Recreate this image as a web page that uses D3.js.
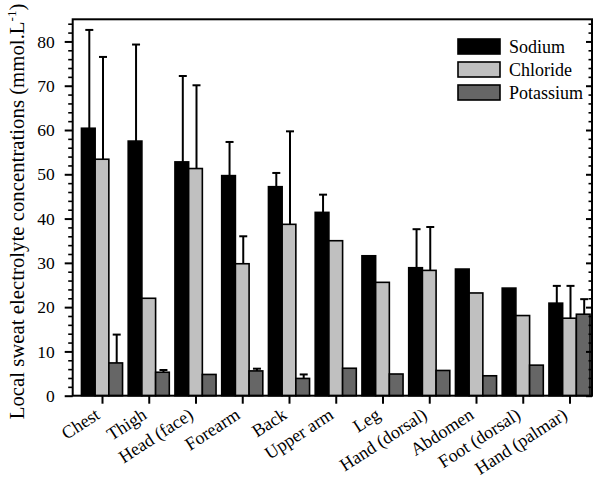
<!DOCTYPE html>
<html>
<head>
<meta charset="utf-8">
<script src="https://cdn.jsdelivr.net/npm/d3@7"></script>
<style>
  html, body { margin: 0; padding: 0; background: #fff; }
  svg { display: block; }
  svg text { font-family: "Liberation Serif", "Times New Roman", serif !important; fill: #000; }
</style>
</head>
<body>
<svg id="chart" width="600" height="480"></svg>
<script>
const categories = ["Chest", "Thigh", "Head (face)", "Forearm", "Back", "Upper arm", "Leg", "Hand (dorsal)", "Abdomen", "Foot (dorsal)", "Hand (palmar)"];
const seriesNames = ["Sodium", "Chloride", "Potassium"];
const sodium      = [60.4, 57.5, 52.8, 49.7, 47.2, 41.4, 31.6, 28.9, 28.6, 24.3, 20.9];
const sodiumErr   = [82.6, 79.3, 72.2, 57.3, 50.3, 45.4, null, 37.6, null, null, 24.8];
const chloride    = [53.4, 22.0, 51.3, 29.8, 38.7, 35.0, 25.6, 28.3, 23.2, 18.1, 17.5];
const chlorideErr = [76.5, null, 70.1, 36.0, 59.7, null, null, 38.1, null, null, 24.8];
const potassium   = [7.4, 5.3, 4.8, 5.6, 3.9, 6.2, 4.9, 5.7, 4.5, 6.9, 18.4];
const potassiumErr= [13.8, 5.8, null, 6.1, 4.8, null, null, null, null, null, 21.8];
const yTicks = [0, 10, 20, 30, 40, 50, 60, 70, 80];
const yLabel = "Local sweat electrolyte concentrations (mmol.L";

const colors = ["#000000", "#c0c0c0", "#666666"];
const values = [sodium, chloride, potassium];
const errs = [sodiumErr, chlorideErr, potassiumErr];

const svg = d3.select("#chart");
const mLeft = 72.7, mRight = 592, mTop = 19.3, mBottom = 395.7;

const y = d3.scaleLinear().domain([0, 85]).range([mBottom, mTop]);
const x = d3.scalePoint().domain(categories).range([102, 569.5]);
const barW = 13.7;
const xs = d3.scaleBand().domain(seriesNames).range([-barW * 1.5, barW * 1.5]).padding(0);

// bars
seriesNames.forEach((s, si) => {
  const g = svg.append("g");
  g.selectAll("rect").data(categories).join("rect")
    .attr("x", (c) => x(c) + xs(s))
    .attr("y", (c, i) => y(values[si][i]))
    .attr("width", xs.bandwidth())
    .attr("height", (c, i) => y(0) - y(values[si][i]))
    .attr("fill", colors[si])
    .attr("stroke", "#000")
    .attr("stroke-width", 1.6);
  const eg = svg.append("g").attr("stroke", "#000").attr("stroke-width", 2);
  categories.forEach((c, i) => {
    const e = errs[si][i];
    if (e == null) return;
    const cx = x(c) + xs(s) + xs.bandwidth() / 2 + 1;
    eg.append("line").attr("x1", cx).attr("x2", cx).attr("y1", y(values[si][i])).attr("y2", y(e));
    eg.append("line").attr("x1", cx - 4).attr("x2", cx + 4).attr("y1", y(e)).attr("y2", y(e));
  });
});

// frame
svg.append("rect").attr("x", mLeft).attr("y", mTop).attr("width", mRight - mLeft).attr("height", mBottom - mTop)
  .attr("fill", "none").attr("stroke", "#000").attr("stroke-width", 2);

const minorVals = d3.range(0, 85, 2).filter(v => v % 10 !== 0);

// left axis major
const la = svg.append("g").attr("transform", `translate(${mLeft},0)`)
  .call(d3.axisLeft(y).tickValues(yTicks).tickSize(8).tickPadding(10));
la.select(".domain").remove();
la.selectAll(".tick line").attr("stroke-width", 2);
la.selectAll(".tick text").attr("font-size", 17.5);
// left minor
const lm = svg.append("g").attr("transform", `translate(${mLeft},0)`)
  .call(d3.axisLeft(y).tickValues(minorVals).tickSize(4.5).tickFormat(""));
lm.select(".domain").remove();
lm.selectAll(".tick line").attr("stroke-width", 1.6);

// right axis (inward ticks)
const ra = svg.append("g").attr("transform", `translate(${mRight},0)`)
  .call(d3.axisLeft(y).tickValues(yTicks).tickSize(6).tickFormat(""));
ra.select(".domain").remove();
ra.selectAll(".tick line").attr("stroke-width", 2);
const rm = svg.append("g").attr("transform", `translate(${mRight},0)`)
  .call(d3.axisLeft(y).tickValues(minorVals).tickSize(3.5).tickFormat(""));
rm.select(".domain").remove();
rm.selectAll(".tick line").attr("stroke-width", 1.6);

// bottom axis
const ba = svg.append("g").attr("transform", `translate(0,${mBottom})`)
  .call(d3.axisBottom(x).tickSize(8).tickFormat(""));
ba.select(".domain").remove();
ba.selectAll(".tick line").attr("stroke-width", 2);

svg.append("g").selectAll("text").data(categories).join("text")
  .attr("transform", c => `translate(${x(c) - 1},${mBottom + 22}) rotate(-33)`)
  .attr("text-anchor", "end")
  .attr("font-size", 18)
  .text(c => c);

// y label
const yl = svg.append("text")
  .attr("transform", `translate(24,${(mTop + mBottom) / 2 + 4}) rotate(-90)`)
  .attr("text-anchor", "middle")
  .attr("font-size", 20.8);
yl.append("tspan").text(yLabel);
yl.append("tspan").attr("font-size", 13).attr("dy", -8).text("-1");
yl.append("tspan").attr("dy", 8).text(")");

// legend
const lg = svg.append("g").attr("transform", "translate(458,39)");
seriesNames.forEach((s, i) => {
  lg.append("rect").attr("x", 0).attr("y", i * 23).attr("width", 42).attr("height", 15)
    .attr("fill", colors[i]).attr("stroke", "#000").attr("stroke-width", 1.6);
  lg.append("text").attr("x", 51).attr("y", i * 23 + 14).attr("font-size", 18).text(s);
});
</script>
</body>
</html>
